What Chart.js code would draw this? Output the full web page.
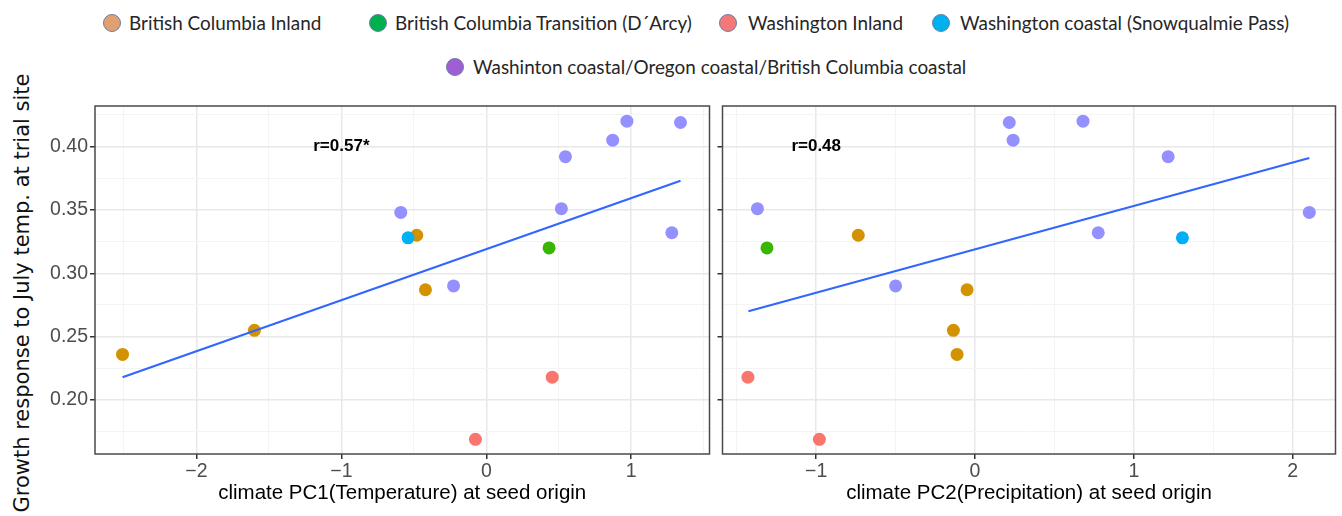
<!DOCTYPE html>
<html>
<head>
<meta charset="utf-8">
<script src="https://cdn.jsdelivr.net/npm/chart.js@4.4.0/dist/chart.umd.min.js"></script>
<style>
    html, body { margin: 0; padding: 0; background: #fff; }
    #wrap { position: relative; width: 1342px; height: 516px; overflow: hidden; }
    canvas { position: absolute; top: 0; }
    #panel1 { left: 0; }
    #panel2 { left: 716px; }
    .leg-dot { position: absolute; width: 18px; height: 18px; border-radius: 50%; border: 1px solid #6b7fa6; box-sizing: border-box; }
    .leg-text { position: absolute; font-family: Lato, "Open Sans", sans-serif; font-size: 18.9px; line-height: 22px; color: #262626; white-space: nowrap; }
    #ytitle { position: absolute; left: -228px; top: 281px; width: 500px; height: 24px; line-height: 24px; text-align: center;
              font-family: "DejaVu Sans", sans-serif; font-size: 21px; color: #111; transform: rotate(-90deg); white-space: nowrap; }
</style>
</head>
<body>
<div id="wrap">
    <div id="legend"></div>
    <div id="ytitle">Growth response to July temp. at trial site</div>
    <canvas id="panel1" width="716" height="516"></canvas>
    <canvas id="panel2" width="626" height="516"></canvas>
</div>
<script>
// groups (legend order)
const groups = [
    'British Columbia Inland',
    'British Columbia Transition (D´Arcy)',
    'Washington Inland',
    'Washington coastal (Snowqualmie Pass)',
    'Washinton coastal/Oregon coastal/British Columbia coastal'
];
const pointColors = ['#D39200', '#39B600', '#F8766D', '#00B0F6', '#9590FF'];
const legendColors = ['#E0A070', '#00B050', '#F4777A', '#00B0F0', '#9E5FD4'];

// one entry per seed source
const sampleGroup = [0, 0, 0, 0, 3, 4, 4, 1, 4, 4, 4, 4, 4, 4, 2, 2];
const pc1 = [-2.51, -1.60, -0.48, -0.42, -0.54, -0.59, -0.226, 0.433, 0.518, 0.546, 0.872, 0.970, 1.34, 1.28, -0.075, 0.455];
const pc2 = [-0.113, -0.136, -0.735, -0.05, 1.306, 2.105, -0.50, -1.31, -1.37, 1.216, 0.24, 0.68, 0.216, 0.776, -0.98, -1.43];
const growth = [0.236, 0.255, 0.330, 0.287, 0.328, 0.348, 0.290, 0.320, 0.351, 0.392, 0.405, 0.420, 0.419, 0.332, 0.169, 0.218];

// fitted lines (end points)
const fit1X = [-2.51, 1.34];
const fit1Y = [0.218, 0.373];
const fit2X = [-1.427, 2.105];
const fit2Y = [0.270, 0.391];

// axes
const yMajor = [0.20, 0.25, 0.30, 0.35, 0.40];
const yMinor = [0.175, 0.225, 0.275, 0.325, 0.375, 0.425];
const x1Major = [-2, -1, 0, 1];
const x1Minor = [-2.5, -1.5, -0.5, 0.5, 1.5];
const x2Major = [-1, 0, 1, 2];
const x2Minor = [-1.5, -0.5, 0.5, 1.5];
const yRange = [0.1574, 0.432];
const x1Range = [-2.70, 1.54];
const x2Range = [-1.59, 2.27];

const rLabels = ['r=0.57*', 'r=0.48'];
const rPos = [-1, 0.40];

// legend layout: [dot center x, text left x, row center y]
const legendSlots = [[112, 129, 23], [378, 395, 23], [728, 748, 23], [941, 960, 23], [455, 473, 67]];

const legend = document.getElementById('legend');
groups.forEach((name, i) => {
    const [dx, tx, cy] = legendSlots[i];
    const dot = document.createElement('div');
    dot.className = 'leg-dot';
    dot.style.left = (dx - 9) + 'px';
    dot.style.top = (cy - 9) + 'px';
    dot.style.background = legendColors[i];
    legend.appendChild(dot);
    const txt = document.createElement('div');
    txt.className = 'leg-text';
    txt.style.left = tx + 'px';
    txt.style.top = (cy - 11) + 'px';
    txt.textContent = name;
    legend.appendChild(txt);
});

const isIn = (list, v) => list.some(m => Math.abs(m - v) < 1e-9);
const minus = s => String(s).replace('-', '\u2212');

const panelFrame = {
    id: 'panelFrame',
    afterDraw(chart) {
        const { ctx, chartArea: a } = chart;
        ctx.save();
        ctx.strokeStyle = '#4a4a4a';
        ctx.lineWidth = 1.5;
        ctx.strokeRect(a.left, a.top, a.right - a.left, a.bottom - a.top);
        ctx.restore();
    }
};

const rText = {
    id: 'rText',
    afterDatasetsDraw(chart, args, opts) {
        const { ctx, scales } = chart;
        ctx.save();
        ctx.font = 'bold 17px "Liberation Sans", Arial, sans-serif';
        ctx.fillStyle = '#000';
        ctx.textAlign = 'center';
        ctx.textBaseline = 'middle';
        ctx.fillText(opts.text, scales.x.getPixelForValue(rPos[0]), scales.y.getPixelForValue(rPos[1]));
        ctx.restore();
    }
};

function makePanel(canvasId, xValues, xRange, xMajor, xMinor, fitX, fitY, label, xTitle, showY) {
    const xTicks = xMajor.concat(xMinor);
    const yTicks = yMajor.concat(yMinor);
    const tickFont = { family: '"Liberation Sans", Arial, sans-serif', size: 19.5 };

    return new Chart(document.getElementById(canvasId), {
        type: 'scatter',
        data: {
            datasets: [
                {
                    type: 'line',
                    data: fitX.map((x, i) => ({ x: x, y: fitY[i] })),
                    borderColor: '#3366FF',
                    borderWidth: 2.2,
                    pointRadius: 0,
                    fill: false
                },
                {
                    data: xValues.map((x, i) => ({ x: x, y: growth[i] })),
                    pointBackgroundColor: sampleGroup.map(g => pointColors[g]),
                    pointBorderWidth: 0,
                    pointRadius: 6.5,
                    pointHoverRadius: 6.5
                }
            ]
        },
        options: {
            responsive: false,
            animation: false,
            events: [],
            layout: { padding: { top: 106, right: 2, bottom: 0, left: 0 } },
            plugins: {
                legend: { display: false },
                tooltip: { enabled: false },
                rText: { text: label }
            },
            scales: {
                x: {
                    type: 'linear',
                    min: xRange[0],
                    max: xRange[1],
                    afterBuildTicks: s => { s.ticks = xTicks.map(v => ({ value: v })); },
                    afterFit: s => { s.height = 62; },
                    border: { display: false },
                    grid: {
                        color: c => c.tick && isIn(xMajor, c.tick.value) ? '#E8E8E8' : '#F4F4F4',
                        lineWidth: c => c.tick && isIn(xMajor, c.tick.value) ? 1.5 : 1,
                        tickLength: 5,
                        tickColor: c => c.tick && isIn(xMajor, c.tick.value) ? '#333333' : 'rgba(0,0,0,0)'
                    },
                    ticks: {
                        autoSkip: false,
                        maxRotation: 0,
                        padding: 1,
                        color: '#4D4D4D',
                        font: tickFont,
                        callback: v => isIn(xMajor, v) ? minus(v) : ''
                    },
                    title: {
                        display: true,
                        text: xTitle,
                        color: '#000',
                        font: { family: '"Liberation Sans", Arial, sans-serif', size: 20.5 },
                        padding: { top: 0, bottom: 10 }
                    }
                },
                y: {
                    type: 'linear',
                    min: yRange[0],
                    max: yRange[1],
                    afterBuildTicks: s => { s.ticks = yTicks.map(v => ({ value: v })); },
                    afterFit: s => { s.width = showY ? 95 : 5; },
                    border: { display: false },
                    grid: {
                        color: c => c.tick && isIn(yMajor, c.tick.value) ? '#E8E8E8' : '#F4F4F4',
                        lineWidth: c => c.tick && isIn(yMajor, c.tick.value) ? 1.5 : 1,
                        tickLength: 5,
                        tickColor: c => c.tick && isIn(yMajor, c.tick.value) ? '#333333' : 'rgba(0,0,0,0)'
                    },
                    ticks: {
                        display: showY,
                        autoSkip: false,
                        padding: 2,
                        color: '#4D4D4D',
                        font: tickFont,
                        callback: v => isIn(yMajor, v) ? v.toFixed(2) : ''
                    }
                }
            }
        },
        plugins: [panelFrame, rText]
    });
}

document.addEventListener('DOMContentLoaded', () => {
    makePanel('panel1', pc1, x1Range, x1Major, x1Minor, fit1X, fit1Y, rLabels[0],
        'climate PC1(Temperature) at seed origin', true);
    makePanel('panel2', pc2, x2Range, x2Major, x2Minor, fit2X, fit2Y, rLabels[1],
        'climate PC2(Precipitation) at seed origin', false);
});
</script>
</body>
</html>
